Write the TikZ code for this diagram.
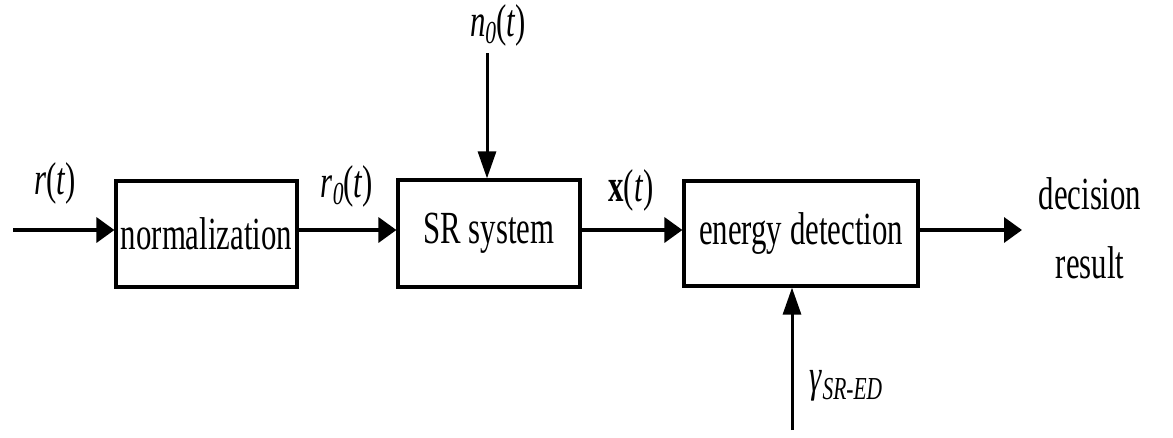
\documentclass[tikz,border=0pt]{standalone}
\usepackage{fontspec}
\setmainfont{Liberation Serif}[FakeStretch=0.67]
\usetikzlibrary{arrows.meta}
\newcommand{\mysub}[1]{\raisebox{-0.16em}{\fontsize{32}{36}\selectfont\textit{#1}}}
\begin{document}
\begin{tikzpicture}[x=1pt,y=-1pt,
  blk/.style={draw, line width=3.2pt, inner sep=0pt, font=\fontsize{46}{52}\selectfont},
  lbl/.style={inner sep=0pt, font=\fontsize{46}{52}\selectfont},
  harr/.style={line width=3.6pt, -{Triangle[length=18pt,width=25pt]}},
  varr/.style={line width=3pt, -{Triangle[length=27pt,width=18pt]}}]
\useasboundingbox (0,0) rectangle (1173,437);
\node[blk, minimum width=181pt, minimum height=106pt] (norm) at (206.5,234) {normalization};
\node[blk, minimum width=182pt, minimum height=107pt] (sr) at (489,233.5) {SR system};
\node[blk, minimum width=234pt, minimum height=105pt] (ed) at (801,233.5) {energy detection};
\coordinate (in) at (13,230);
\coordinate (out) at (1022,230);
\coordinate (ntop) at (487,53);
\coordinate (gbot) at (792,430);
\coordinate (m1) at (297,230);
\coordinate (m2) at (580,230);
\draw[harr] (in) -- (in -| norm.west);
\draw[harr] (m1) -- (m1 -| sr.west);
\draw[harr] (m2) -- (m2 -| ed.west);
\draw[harr] (out -| ed.east) -- (out);
\draw[varr] (ntop) -- (ntop |- sr.north);
\draw[varr] (gbot) -- (gbot |- ed.south);
\node[lbl] (lr) at (55,183) {\textit{r}(\textit{t})};
\node[lbl] (lr0) at (347,186) {\textit{r}\mysub{0}(\textit{t})};
\node[lbl] (lx) at (631,190) {\textbf{x}(\textit{t})};
\node[lbl] (ln) at (498,25) {\textit{n}\mysub{0}(\textit{t})};
\node[lbl, align=center] (ldec) at (1090,228) {decision\\[17pt]result};
\node[lbl] (lg) at (846,386) {\textit{γ}\mysub{SR-ED}};
\end{tikzpicture}
\end{document}
